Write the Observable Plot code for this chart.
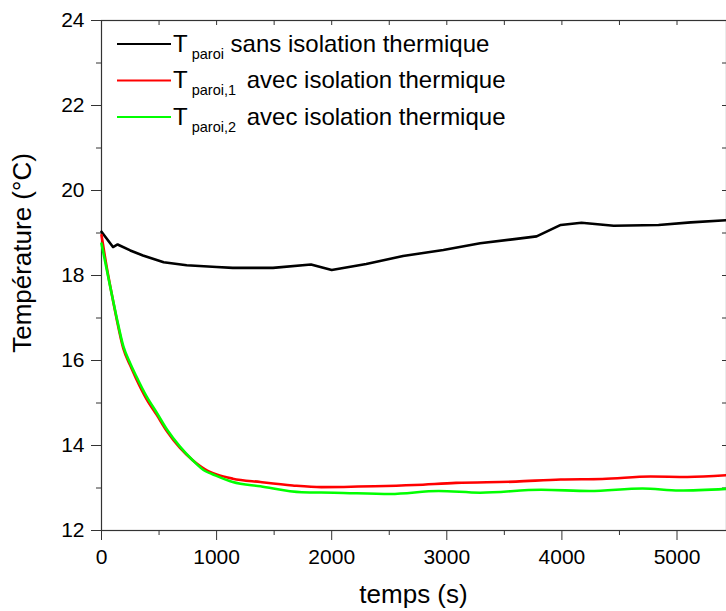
<!DOCTYPE html>
<html>
<head>
<meta charset="utf-8">
<script src="https://cdn.jsdelivr.net/npm/d3@7"></script>
<script src="https://cdn.jsdelivr.net/npm/@observablehq/plot@0.6"></script>
<style>
  html, body { margin: 0; padding: 0; background: #fff; }
  #chart svg { display: block; }
</style>
</head>
<body>
<div id="chart"></div>
<script>
// ---- data ----
const blackTime = [0, 100, 140, 250, 360, 540, 740, 1000, 1140, 1490, 1820, 2000, 2300, 2620, 2970, 3290, 3570, 3780, 3990, 4170, 4450, 4840, 5120, 5430];
const blackTemp = [19.03, 18.67, 18.73, 18.59, 18.47, 18.31, 18.24, 18.20, 18.18, 18.18, 18.26, 18.13, 18.27, 18.46, 18.60, 18.76, 18.85, 18.92, 19.19, 19.24, 19.17, 19.19, 19.25, 19.30];

const redTime = [0, 45, 90, 130, 190, 250, 300, 390, 480, 570, 680, 790, 900, 1000, 1140, 1380, 1660, 1910, 2370, 2720, 3080, 3600, 3990, 4350, 4770, 5090, 5430];
const redTemp = [18.95, 18.20, 17.55, 17.00, 16.28, 15.88, 15.58, 15.10, 14.72, 14.33, 13.95, 13.66, 13.44, 13.32, 13.22, 13.14, 13.06, 13.02, 13.04, 13.07, 13.12, 13.15, 13.20, 13.21, 13.27, 13.26, 13.30];

const greenTime = [0, 45, 90, 130, 190, 250, 300, 390, 480, 570, 680, 790, 900, 960, 1140, 1380, 1740, 2020, 2510, 2930, 3290, 3820, 4240, 4700, 5020, 5430];
const greenTemp = [18.75, 18.15, 17.55, 17.03, 16.33, 15.93, 15.64, 15.16, 14.77, 14.37, 13.98, 13.66, 13.40, 13.33, 13.14, 13.04, 12.90, 12.89, 12.86, 12.93, 12.89, 12.96, 12.93, 12.99, 12.94, 12.98];

const xMajorTicks = [0, 1000, 2000, 3000, 4000, 5000];
const xMinorTicks = [500, 1500, 2500, 3500, 4500];
const yMajorTicks = [12, 14, 16, 18, 20, 22, 24];
const yMinorTicks = [13, 15, 17, 19, 21, 23];

const xTitle = "temps (s)";
const yTitle = "Température (°C)";
const legendItems = [
  {main: "T", sub: "paroi", rest: " sans isolation thermique", color: "#000000", gap: 0},
  {main: "T", sub: "paroi,1", rest: " avec isolation thermique", color: "#ff0000", gap: 4},
  {main: "T", sub: "paroi,2", rest: " avec isolation thermique", color: "#00ff00", gap: 4}
];

// ---- build tables ----
const toRows = (ts, vs) => ts.map((t, i) => ({t, T: vs[i]}));
const black = toRows(blackTime, blackTemp);
const red = toRows(redTime, redTemp);
const green = toRows(greenTime, greenTemp);

const W = 726, H = 611;
const mL = 101, mR = 0, mT = 20, mB = 81;
const plotH = H - mT - mB, plotW = W - mL - mR;
const axisColor = "#333";
const fmt = d => String(d);

const svg = Plot.plot({
  width: W,
  height: H,
  marginLeft: mL,
  marginRight: mR,
  marginTop: mT,
  marginBottom: mB,
  style: {fontFamily: "'Liberation Sans', Arial, sans-serif", fontSize: "21px", color: "#000", background: "#fff"},
  x: {domain: [0, 5430]},
  y: {domain: [12, 24]},
  marks: [
    Plot.frame({stroke: axisColor, strokeWidth: 1.2}),
    Plot.axisX({ticks: xMajorTicks, tickSize: 10, tickPadding: 9, tickFormat: fmt, label: null, stroke: axisColor, fill: "#000"}),
    Plot.axisX({ticks: xMinorTicks, tickSize: 5, tickFormat: () => "", label: null, stroke: axisColor}),
    Plot.axisY({ticks: yMajorTicks, tickSize: 10, tickPadding: 7, tickFormat: fmt, label: null, stroke: axisColor, fill: "#000"}),
    Plot.axisY({ticks: yMinorTicks, tickSize: 5, tickFormat: () => "", label: null, stroke: axisColor}),
    // inward ticks on the top and right frame edges
    Plot.tickX(xMajorTicks.concat(xMinorTicks), {x: d => d, stroke: axisColor, insetBottom: plotH - 5}),
    Plot.tickY(yMajorTicks.concat(yMinorTicks), {y: d => d, stroke: axisColor, insetLeft: plotW - 4}),
    Plot.line(black, {x: "t", y: "T", stroke: "#000000", strokeWidth: 2.6}),
    Plot.line(red, {x: "t", y: "T", stroke: "#ff0000", strokeWidth: 2.6, curve: "monotone-x"}),
    Plot.line(green, {x: "t", y: "T", stroke: "#00ff00", strokeWidth: 2.6, curve: "monotone-x"})
  ]
});

document.getElementById("chart").appendChild(svg);

// ---- axis titles and legend ----
const s = d3.select(svg);
s.append("text")
  .attr("x", mL + plotW / 2)
  .attr("y", 603)
  .attr("text-anchor", "middle")
  .attr("font-size", 26)
  .attr("fill", "#000")
  .text(xTitle);

s.append("text")
  .attr("transform", "translate(31,253) rotate(-90)")
  .attr("text-anchor", "middle")
  .attr("font-size", 26)
  .attr("fill", "#000")
  .text(yTitle);

const lg = s.append("g").attr("text-anchor", "start");
legendItems.forEach((d, i) => {
  const cy = 44 + i * 36.5;
  lg.append("line")
    .attr("x1", 117).attr("x2", 171)
    .attr("y1", cy).attr("y2", cy)
    .attr("stroke", d.color).attr("stroke-width", 2.2);
  const t = lg.append("text")
    .attr("x", 173)
    .attr("y", cy + 7.7)
    .attr("text-anchor", "start")
    .attr("font-size", 24)
    .attr("fill", "#000");
  t.append("tspan").text(d.main);
  t.append("tspan").attr("dx", 4).attr("dy", 7).attr("font-size", 14.5).text(d.sub);
  t.append("tspan").attr("dx", d.gap).attr("dy", -7).attr("font-size", 24).attr("style", "white-space:pre").text(d.rest);
});
</script>
</body>
</html>
